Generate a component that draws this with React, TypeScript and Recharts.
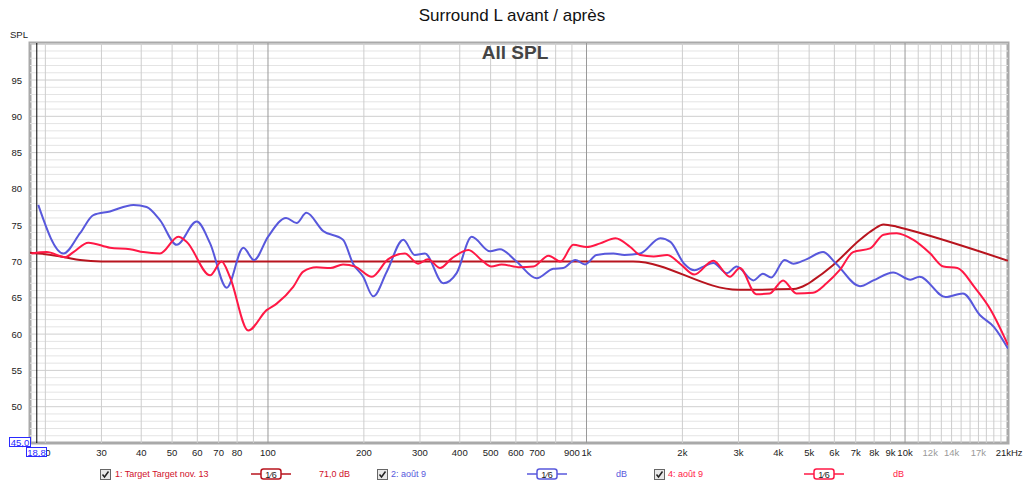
import { LineChart, Line, XAxis, YAxis, ReferenceLine, ReferenceArea } from 'recharts';

const W = 1024;
const H = 484;
const F_MIN = 17.9;
const F_MAX = 21050;
const DB_MIN = 45;
const DB_MAX = 100.1;

// target curve
const targetFreq = [17.9, 20, 23, 25.7, 30, 40, 100, 1000, 1400, 3000, 4460, 4900, 5140, 5940, 7220, 7950, 8560, 9420, 10600, 21050];
const targetDb = [71.2, 71.0, 70.6, 70.2, 70.0, 70.0, 70.0, 70.0, 70.0, 66.1, 66.2, 66.8, 67.4, 69.5, 73.0, 74.4, 75.1, 74.8, 74.2, 70.1];

// 2: août 9 (avant)
const blueFreq = [19, 22.8, 25.7, 28.3, 31.9, 37.8, 41.6, 45.8, 51.7, 59.7, 65.8, 74.2, 83.7, 90.4, 100, 114, 123, 132, 149, 172, 185, 199, 214, 236, 266, 289, 311, 355, 391, 436, 498, 535, 603, 697, 786, 845, 922, 990, 1075, 1214, 1315, 1474, 1705, 1834, 2025, 2183, 2330, 2500, 2760, 2960, 3340, 3580, 3800, 4190, 4460, 4900, 5530, 6080, 7220, 7950, 9180, 10400, 11100, 13400, 15200, 17200, 19000, 21050];
const blueDb = [77.8, 71.1, 73.9, 76.4, 76.9, 77.8, 77.5, 75.7, 72.3, 75.5, 72.5, 66.4, 71.9, 70.2, 73.4, 76.0, 75.3, 76.7, 74.2, 73.0, 69.7, 67.9, 65.2, 68.6, 73.0, 70.9, 71.1, 67.0, 68.4, 73.4, 71.4, 71.7, 70.0, 67.7, 69.0, 69.1, 70.2, 69.6, 70.9, 71.1, 70.9, 71.1, 73.2, 72.7, 69.7, 68.8, 69.3, 69.8, 68.4, 69.3, 67.4, 68.3, 67.8, 70.2, 69.7, 70.3, 71.3, 69.7, 66.6, 67.4, 68.5, 67.5, 67.9, 65.1, 65.6, 62.6, 61.0, 58.0];

// 4: août 9 (après)
const redFreq = [18.1, 20.2, 23.1, 24.5, 27.3, 31.9, 36.9, 40.6, 45.8, 52.3, 55.6, 65.8, 71.5, 75.9, 86.7, 99, 106.5, 120, 129, 142, 157, 172, 188, 212, 238, 269, 296, 318, 347, 377, 426, 468, 503, 541, 618, 681, 760, 829, 909, 1002, 1104, 1233, 1372, 1474, 1625, 1792, 1966, 2180, 2500, 2820, 3030, 3410, 3760, 4140, 4560, 5140, 5670, 6230, 6870, 7770, 8560, 9420, 10600, 12000, 13200, 14600, 16500, 18600, 21050];
const redDb = [71.1, 71.3, 70.6, 71.3, 72.6, 71.9, 71.7, 71.3, 71.1, 73.4, 72.7, 68.1, 70.0, 67.9, 60.5, 63.3, 64.2, 66.5, 68.6, 69.2, 69.1, 69.6, 69.3, 67.9, 70.3, 71.1, 69.7, 70.3, 69.1, 70.4, 71.6, 70.2, 69.3, 69.6, 69.2, 69.3, 70.8, 70.0, 72.3, 72.0, 72.5, 73.2, 72.0, 70.9, 70.7, 70.9, 69.7, 68.2, 70.1, 67.9, 69.1, 65.5, 65.6, 67.4, 65.6, 65.7, 67.0, 68.8, 71.3, 71.8, 73.7, 73.9, 73.0, 71.1, 69.3, 69.1, 66.5, 63.3, 58.5];

const xTicks = [20, 30, 40, 50, 60, 70, 80, 100, 200, 300, 400, 500, 600, 700, 900, 1000, 2000, 3000, 4000, 5000, 6000, 7000, 8000, 9000, 10000, 12000, 14000, 17000, 21000];
const yTicks = [50, 55, 60, 65, 70, 75, 80, 85, 90, 95];
const gridFreqs = [20, 30, 40, 50, 60, 70, 80, 90, 100, 200, 300, 400, 500, 600, 700, 800, 900, 1000, 2000, 3000, 4000, 5000, 6000, 7000, 8000, 9000, 10000, 11000, 12000, 13000, 14000, 15000, 16000, 17000, 18000, 19000, 20000];
const gridDb = Array.from({ length: 55 }, (_, i) => 46 + i);

const TARGET = '#b8141e';
const BLUE = '#5858dc';
const RED = '#ff1845';
const FONT = '"Liberation Sans", Arial, sans-serif';

const zip = (fs: number[], vs: number[]) => fs.map((f, i) => ({ f, v: vs[i] }));

function fmtFreq(f: number) {
  if (f === 21000) return '21kHz';
  if (f >= 1000) return `${f / 1000}k`;
  return String(f);
}

function XTick({ x, y, payload }: any) {
  const f = payload.value;
  const grey = f === 12000 || f === 14000 || f === 17000;
  return (
    <text x={f === 21000 ? x - 12 : x} y={y} dy={5} textAnchor={f === 21000 ? 'start' : 'middle'} fontSize={9.5} fontFamily={FONT} fill={grey ? '#9a9a9a' : '#222'}>
      {fmtFreq(f)}
    </text>
  );
}

function YTick({ x, y, payload }: any) {
  return (
    <text x={x} y={y} dy={3.5} textAnchor="end" fontSize={9.5} fontFamily={FONT} fill="#222">
      {payload.value}
    </text>
  );
}

function CheckBox() {
  return (
    <svg width={11} height={11} style={{ display: 'block' }}>
      <rect x={0.5} y={0.5} width={10} height={10} fill="#e8e8e8" stroke="#666" />
      <path d="M2.5 5.5 L4.5 8 L8.5 2.5" fill="none" stroke="#222" strokeWidth={1.5} />
    </svg>
  );
}

function Sample({ color }: { color: string }) {
  return (
    <svg width={40} height={12} style={{ display: 'block' }}>
      <line x1={0} y1={6} x2={40} y2={6} stroke={color} strokeWidth={1.5} />
      <rect x={10} y={1} width={20} height={10} rx={2.5} fill="#fff" stroke={color} strokeWidth={1.5} />
      <text x={20} y={9.5} textAnchor="middle" fontSize={9} fontFamily={FONT} fill="#222">
        1⁄6
      </text>
    </svg>
  );
}

const abs = (left: number, top: number, extra: any = {}) => ({ position: 'absolute' as const, left, top, whiteSpace: 'nowrap' as const, ...extra });
const boxStyle = (left: number, top: number, width: number) =>
  abs(left, top, {
    width,
    height: 10,
    lineHeight: '10px',
    border: '1px solid #2a2aff',
    background: '#fff',
    color: '#2a2aff',
    fontSize: 9.5,
    textAlign: 'center',
    boxSizing: 'border-box',
  });
const legendText = (color: string) => ({ fontSize: 9, color, lineHeight: '12px' });

export default function App() {
  return (
    <div style={{ position: 'absolute', left: 0, top: 0, width: W, height: H, background: '#fff', fontFamily: FONT, overflow: 'hidden' }}>
      <LineChart width={W} height={H} margin={{ top: 43, right: 16, bottom: 0, left: 0 }}>
        {gridDb.map((d) => (
          <ReferenceLine key={'h' + d} y={d} stroke={d % 5 === 0 ? '#cfcfcf' : '#e4e4e4'} strokeWidth={1} />
        ))}
        {gridFreqs.map((f) => (
          <ReferenceLine key={'v' + f} x={f} stroke={f === 100 || f === 1000 || f === 10000 ? '#999' : '#cdcdcd'} strokeWidth={1} />
        ))}
        <XAxis
          dataKey="f"
          type="number"
          scale="log"
          domain={[F_MIN, F_MAX]}
          allowDataOverflow
          ticks={xTicks}
          interval={0}
          tick={<XTick />}
          axisLine={false}
          tickLine={false}
          height={41}
        />
        <YAxis
          type="number"
          domain={[DB_MIN, DB_MAX]}
          allowDataOverflow
          ticks={yTicks}
          interval={0}
          tick={<YTick />}
          axisLine={false}
          tickLine={false}
          width={30}
        />
        <ReferenceLine x={18.8} stroke="#000" strokeWidth={1} />
        <Line data={zip(targetFreq, targetDb)} dataKey="v" type="monotone" stroke={TARGET} strokeWidth={2} dot={false} isAnimationActive={false} />
        <Line data={zip(blueFreq, blueDb)} dataKey="v" type="monotone" stroke={BLUE} strokeWidth={2} dot={false} isAnimationActive={false} />
        <Line data={zip(redFreq, redDb)} dataKey="v" type="monotone" stroke={RED} strokeWidth={2} dot={false} isAnimationActive={false} />
        <ReferenceArea x1={F_MIN} x2={F_MAX} y1={DB_MIN} y2={DB_MAX} fill="none" stroke="#a9a9a9" strokeWidth={3} />
      </LineChart>

      <div style={abs(0, 6, { width: W, textAlign: 'center', fontSize: 17, color: '#111' })}>Surround L avant / après</div>
      <div style={abs(10, 29, { fontSize: 9.5, color: '#222' })}>SPL</div>
      <div style={abs(455, 42, { width: 120, textAlign: 'center', fontSize: 19, fontWeight: 'bold', color: '#444' })}>All SPL</div>

      <div style={boxStyle(9, 437, 22)}>45,0</div>
      <div style={boxStyle(26, 447, 21)}>18,8</div>

      <div style={abs(100, 469)}><CheckBox /></div>
      <div style={abs(115, 468, legendText('#d0102a'))}>1: Target Target nov. 13</div>
      <div style={abs(251, 468)}><Sample color={TARGET} /></div>
      <div style={abs(319, 468, legendText('#d0102a'))}>71,0 dB</div>

      <div style={abs(377, 469)}><CheckBox /></div>
      <div style={abs(391, 468, legendText(BLUE))}>2: août 9</div>
      <div style={abs(527, 468)}><Sample color={BLUE} /></div>
      <div style={abs(616, 468, legendText(BLUE))}>dB</div>

      <div style={abs(654, 469)}><CheckBox /></div>
      <div style={abs(668, 468, legendText(RED))}>4: août 9</div>
      <div style={abs(804, 468)}><Sample color={RED} /></div>
      <div style={abs(893, 468, legendText(RED))}>dB</div>
    </div>
  );
}
